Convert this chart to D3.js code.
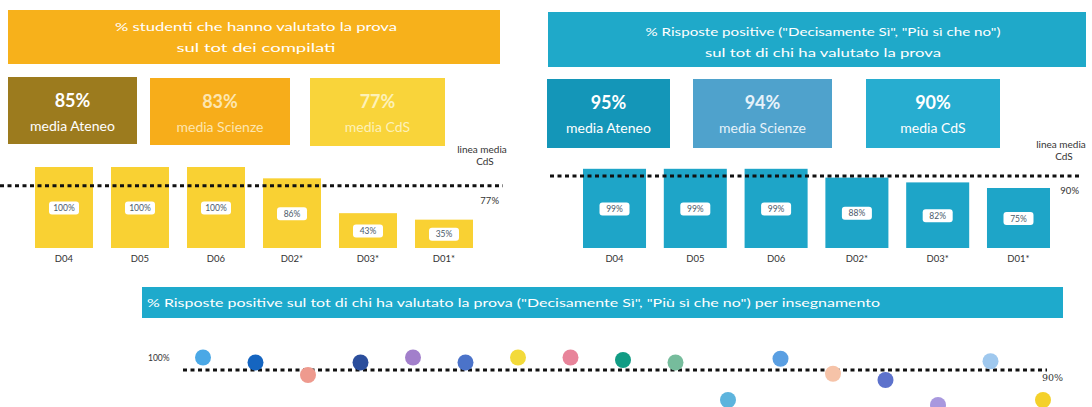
<!DOCTYPE html>
<html>
<head>
<meta charset="utf-8">
<script src="https://cdn.jsdelivr.net/npm/d3@7"></script>
<style>
  html, body { margin: 0; padding: 0; background: #fff; }
  svg { display: block; font-family: Lato, "Open Sans", sans-serif; }
</style>
</head>
<body>
<svg id="chart" width="1092" height="407"></svg>
<script>
// dati
const teachings = ['D04', 'D05', 'D06', 'D02*', 'D03*', 'D01*'];
const ratedShare = [100, 100, 100, 86, 43, 35];       // % studenti che hanno valutato
const positiveShare = [99, 99, 99, 88, 82, 75];       // % risposte positive
const averageLabels = ['media Ateneo', 'media Scienze', 'media CdS'];
const ratedAverages = [85, 83, 77];
const positiveAverages = [95, 94, 90];
const courses = d3.range(1, 18).map(i => 'I' + i);
const coursePositive = [100, 96, 86, 96, 100, 96, 100, 100, 98, 96, 66, 99, 87, 82, 62, 97, 66];

// colori
const courseColors = ['#4aa8e6', '#1565c0', '#ee9a8e', '#2b4e9c', '#a27fcb', '#4b73c9', '#f3da3a', '#e8849a',
  '#119c84', '#76bc9c', '#5db4dd', '#5a9fe2', '#f6c3a8', '#5d72cc', '#a898de', '#9fc8ee', '#f4d12a'];

const svg = d3.select('#chart');

function header(x, y, w, h, color, lines, spans, anchor, tx) {
  svg.append('rect').attr('x', x).attr('y', y).attr('width', w).attr('height', h).attr('fill', color);
  lines.forEach((l, i) => {
    svg.append('text')
      .attr('x', tx).attr('y', l.y)
      .attr('text-anchor', anchor)
      .attr('fill', '#fff')
      .attr('font-size', 12)
      .attr('textLength', spans[i]).attr('lengthAdjust', 'spacingAndGlyphs')
      .text(l.t);
  });
}

function averageBoxes(boxes, values, textColors) {
  boxes.forEach((b, i) => {
    svg.append('rect').attr('x', b.x).attr('y', b.y).attr('width', b.w).attr('height', b.h).attr('fill', b.c);
    svg.append('text')
      .attr('x', b.x + b.w / 2).attr('y', b.y + 30)
      .attr('text-anchor', 'middle').attr('font-size', 18).attr('font-weight', 700)
      .attr('fill', textColors[i])
      .text(values[i] + '%');
    svg.append('text')
      .attr('x', b.x + b.w / 2).attr('y', b.y + 54)
      .attr('text-anchor', 'middle').attr('font-size', 14)
      .attr('fill', textColors[i])
      .text(averageLabels[i]);
  });
}

function barPanel(values, range, inner, yTop, color, mean, lineX, meanLabelX, noteX, noteY) {
  const x = d3.scaleBand().domain(teachings).range(range).paddingInner(inner).paddingOuter(0);
  const y = d3.scaleLinear().domain([0, 100]).range([248, yTop]);
  const g = svg.append('g');

  g.selectAll('.bar')
    .data(values)
    .enter().append('rect')
    .attr('class', 'bar')
    .attr('x', (d, i) => x(teachings[i]))
    .attr('y', d => y(d))
    .attr('width', x.bandwidth())
    .attr('height', d => y(0) - y(d))
    .attr('fill', color);

  g.selectAll('.lab-bg')
    .data(values)
    .enter().append('rect')
    .attr('x', (d, i) => x(teachings[i]) + x.bandwidth() / 2 - 15)
    .attr('y', d => (y(d) + y(0)) / 2 - 6)
    .attr('width', 30).attr('height', 13).attr('rx', 3)
    .attr('fill', '#fff');

  g.selectAll('.lab')
    .data(values)
    .enter().append('text')
    .attr('x', (d, i) => x(teachings[i]) + x.bandwidth() / 2)
    .attr('y', d => (y(d) + y(0)) / 2 + 3.5)
    .attr('text-anchor', 'middle').attr('font-size', 8.5).attr('fill', '#4a5a6a')
    .text(d => d + '%');

  g.append('g')
    .attr('transform', 'translate(0,' + y(0) + ')')
    .call(d3.axisBottom(x).tickSize(0).tickPadding(7))
    .call(a => a.select('.domain').remove())
    .call(a => a.selectAll('text').attr('font-size', 9.5).attr('fill', '#333').attr('font-family', 'Lato, sans-serif'));

  g.append('line')
    .attr('x1', lineX[0]).attr('x2', lineX[1])
    .attr('y1', y(mean)).attr('y2', y(mean))
    .attr('stroke', '#111').attr('stroke-width', 3).attr('stroke-dasharray', '4,3.5');

  g.append('text').attr('x', meanLabelX).attr('y', y(mean) + 18)
    .attr('text-anchor', 'end').attr('font-size', 9.5).attr('fill', '#333').text(mean + '%');

  g.append('text').attr('x', noteX).attr('y', noteY)
    .attr('text-anchor', 'middle').attr('font-size', 10).attr('fill', '#333').text('linea media');
  g.append('text').attr('x', noteX + 3).attr('y', noteY + 12)
    .attr('text-anchor', 'middle').attr('font-size', 10).attr('fill', '#333').text('CdS');
}

// pannello sinistro
header(8, 10, 492, 54, '#f7b11b',
  [{ t: '% studenti che hanno valutato la prova', y: 31 }, { t: 'sul tot dei compilati', y: 52 }],
  [282, 159], 'middle', 256);
averageBoxes([
  { x: 8, y: 77, w: 129, h: 67, c: '#9c7b1e' },
  { x: 150, y: 78, w: 140, h: 67, c: '#f7ad1a' },
  { x: 310, y: 78, w: 135, h: 68, c: '#f9d43a' }
], ratedAverages, ['#fff', '#fde6b0', '#fdf1b8']);
barPanel(ratedShare, [35, 473], 0.237, 167, '#f9d133', 77, [0, 503], 499, 482, 153);

// pannello destro
header(548, 12, 538, 55, '#1fa9c9',
  [{ t: '% Risposte positive ("Decisamente Sì", "Più sì che no")', y: 36 }, { t: 'sul tot di chi ha valutato la prova', y: 57 }],
  [355, 236], 'middle', 823);
averageBoxes([
  { x: 547, y: 79, w: 123, h: 69, c: '#1496b8' },
  { x: 693, y: 79, w: 139, h: 69, c: '#4fa2cc' },
  { x: 866, y: 79, w: 134, h: 69, c: '#27add0' }
], positiveAverages, ['#fff', '#e6f2fa', '#fff']);
barPanel(positiveShare, [583, 1050], 0.22, 168, '#1ea5c8', 90, [550, 1080], 1079, 1061, 148);

// pannello in basso
svg.append('rect').attr('x', 142).attr('y', 287).attr('width', 921).attr('height', 31).attr('fill', '#1eaacc');
svg.append('text').attr('x', 147).attr('y', 307).attr('fill', '#fff').attr('font-size', 12)
  .attr('textLength', 733).attr('lengthAdjust', 'spacingAndGlyphs')
  .text('% Risposte positive sul tot di chi ha valutato la prova ("Decisamente Sì", "Più sì che no") per insegnamento');

const xc = d3.scalePoint().domain(courses).range([203, 1043]);
const yc = d3.scaleLinear().domain([90, 100]).range([370, 357.5]);

svg.append('line')
  .attr('x1', 183).attr('x2', 1047).attr('y1', yc(90)).attr('y2', yc(90))
  .attr('stroke', '#111').attr('stroke-width', 3).attr('stroke-dasharray', '4,3.5');

svg.selectAll('.dot')
  .data(coursePositive)
  .enter().append('circle')
  .attr('class', 'dot')
  .attr('cx', (d, i) => xc(courses[i]))
  .attr('cy', d => yc(d))
  .attr('r', 8)
  .attr('fill', (d, i) => courseColors[i]);

svg.append('text').attr('x', 148).attr('y', yc(100) + 3).attr('font-size', 8.5).attr('fill', '#333').text('100%');
svg.append('text').attr('x', 1042).attr('y', yc(90) + 11).attr('font-size', 9.5).attr('fill', '#333')
  .attr('font-family', '"DejaVu Serif", serif').text('90%');
</script>
</body>
</html>
